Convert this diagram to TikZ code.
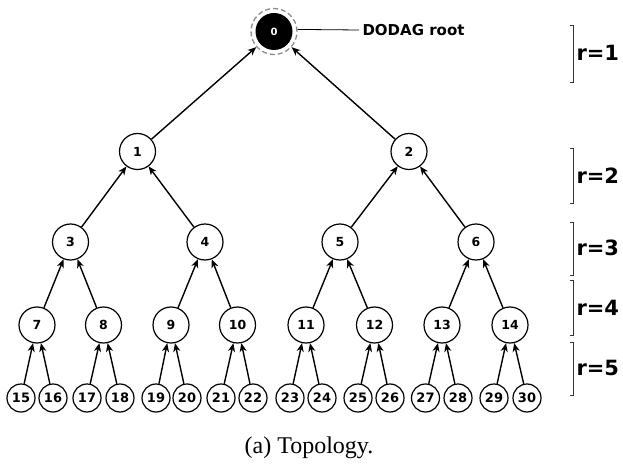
\documentclass[tikz,border=0pt]{standalone}
\usepackage{fontspec}
\setmainfont{Liberation Serif}
\setsansfont{DejaVu Sans}
\usetikzlibrary{arrows.meta}
\begin{document}
\begin{tikzpicture}[x=1pt,y=-1pt,
  nd/.style={circle,draw,line width=1.2pt,minimum size=36pt,inner sep=0pt,font=\sffamily\bfseries\fontsize{12.5}{12.5}\selectfont},
  lf/.style={circle,draw,line width=1.2pt,minimum size=28pt,inner sep=0pt,font=\sffamily\bfseries\fontsize{13}{13}\selectfont},
  ed/.style={line width=1.4pt,-{Stealth[length=8.5pt,width=7pt,inset=2.5pt]}},
  brk/.style={line width=0.7pt,draw=black!80},
  rl/.style={anchor=west,font=\sffamily\bfseries\fontsize{21}{21}\selectfont}]
\useasboundingbox (0,0) rectangle (623,470);
% root
\node[circle,fill=black,minimum size=37pt,inner sep=0pt,text=white,font=\sffamily\bfseries\fontsize{10}{10}\selectfont] (n0) at (274,31.5) {0};
\node[circle,draw=black!45,dashed,dash pattern=on 5pt off 3pt,line width=1.3pt,minimum size=46pt,inner sep=0pt] (ring) at (274,31.5) {};
\node[anchor=west,font=\sffamily\bfseries\fontsize{15}{15}\selectfont] (lbl) at (359,30) {DODAG root};
\draw[line width=0.8pt] (ring.5) -- (lbl.west);
% level 2
\node[nd] (n1) at (137.5,151.5) {1};
\node[nd] (n2) at (409,151.5) {2};
% level 3
\node[nd] (n3) at (70.5,242) {3};
\node[nd] (n4) at (205,242) {4};
\node[nd] (n5) at (340,242) {5};
\node[nd] (n6) at (476,242) {6};
% level 4
\node[nd] (n7) at (37,325) {7};
\node[nd] (n8) at (103.5,325) {8};
\node[nd] (n9) at (171,325) {9};
\node[nd] (n10) at (237.5,325) {10};
\node[nd] (n11) at (306,325) {11};
\node[nd] (n12) at (374.5,325) {12};
\node[nd] (n13) at (442,325) {13};
\node[nd] (n14) at (510,325) {14};
% level 5
\node[lf] (n15) at (21,398) {15};
\node[lf] (n16) at (53,398) {16};
\node[lf] (n17) at (87,398) {17};
\node[lf] (n18) at (120,398) {18};
\node[lf] (n19) at (156,398) {19};
\node[lf] (n20) at (187,398) {20};
\node[lf] (n21) at (221,398) {21};
\node[lf] (n22) at (253,398) {22};
\node[lf] (n23) at (290,398) {23};
\node[lf] (n24) at (322,398) {24};
\node[lf] (n25) at (358,398) {25};
\node[lf] (n26) at (390,398) {26};
\node[lf] (n27) at (425.5,398) {27};
\node[lf] (n28) at (458,398) {28};
\node[lf] (n29) at (494,398) {29};
\node[lf] (n30) at (527,398) {30};
% edges
\draw[ed] (n1) -- (ring);
\draw[ed] (n2) -- (ring);
\draw[ed] (n3) -- (n1);
\draw[ed] (n4) -- (n1);
\draw[ed] (n5) -- (n2);
\draw[ed] (n6) -- (n2);
\draw[ed] (n7) -- (n3);
\draw[ed] (n8) -- (n3);
\draw[ed] (n9) -- (n4);
\draw[ed] (n10) -- (n4);
\draw[ed] (n11) -- (n5);
\draw[ed] (n12) -- (n5);
\draw[ed] (n13) -- (n6);
\draw[ed] (n14) -- (n6);
\draw[ed] (n15) -- (n7);
\draw[ed] (n16) -- (n7);
\draw[ed] (n17) -- (n8);
\draw[ed] (n18) -- (n8);
\draw[ed] (n19) -- (n9);
\draw[ed] (n20) -- (n9);
\draw[ed] (n21) -- (n10);
\draw[ed] (n22) -- (n10);
\draw[ed] (n23) -- (n11);
\draw[ed] (n24) -- (n11);
\draw[ed] (n25) -- (n12);
\draw[ed] (n26) -- (n12);
\draw[ed] (n27) -- (n13);
\draw[ed] (n28) -- (n13);
\draw[ed] (n29) -- (n14);
\draw[ed] (n30) -- (n14);
% brackets
\draw[brk] (570,25) -- (573.5,25) -- (573.5,82) -- (570,82);
\draw[brk] (570,148) -- (573.5,148) -- (573.5,203) -- (570,203);
\draw[brk] (570,222) -- (573.5,222) -- (573.5,275) -- (570,275);
\draw[brk] (570,280) -- (573.5,280) -- (573.5,335) -- (570,335);
\draw[brk] (570,342) -- (573.5,342) -- (573.5,395) -- (570,395);
\node[rl] (r1) at (573,53) {r=1};
\node[rl] (r2) at (573,176) {r=2};
\node[rl] (r3) at (573,248) {r=3};
\node[rl] (r4) at (573,308) {r=4};
\node[rl] (r5) at (573,368) {r=5};
% caption
\node[font=\fontsize{24}{24}\selectfont] (cap) at (309,448) {(a) Topology.};
\end{tikzpicture}
\end{document}
